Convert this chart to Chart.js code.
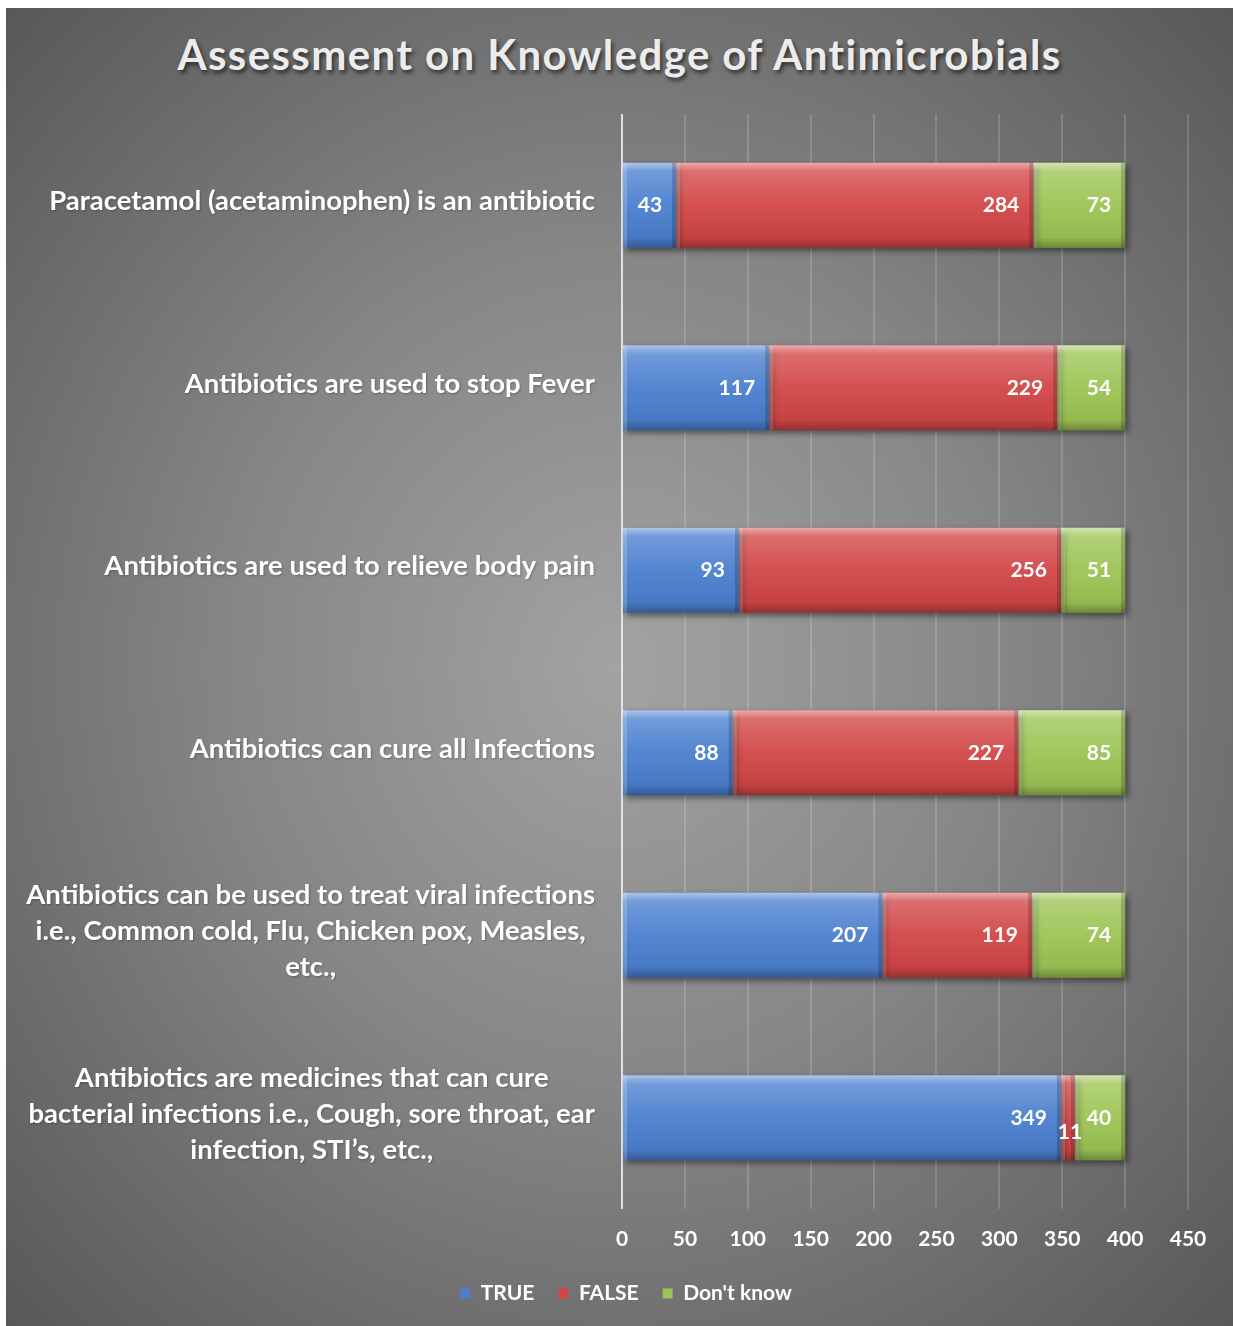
<!DOCTYPE html>
<html lang="en">
<head>
    <meta charset="UTF-8">
    <title>Assessment on Knowledge of Antimicrobials</title>
    <script src="https://cdn.jsdelivr.net/npm/chart.js"></script>
    <style>
        body {
            margin: 0;
            background-color: #ffffff;
            font-family: Lato, sans-serif;
        }

        .panel {
            position: absolute;
            left: 6px;
            top: 8px;
            width: 1227px;
            height: 1318px;
            background: radial-gradient(ellipse at 50% 50%, #a3a3a3 0%, #868686 45%, #585858 100%);
            overflow: hidden;
        }

        h1 {
            position: absolute;
            top: 21px;
            left: 0;
            width: 100%;
            margin: 0;
            text-align: center;
            font-size: 42px;
            line-height: 50px;
            font-weight: bold;
            letter-spacing: 1.4px;
            color: #ececec;
            text-shadow: 2px 3px 4px rgba(0, 0, 0, 0.6);
        }

        .chart-box {
            position: absolute;
            left: 0;
            top: 0;
            width: 1227px;
            height: 1318px;
        }
    </style>
</head>
<body>

<div class="panel">
    <h1>Assessment on Knowledge of Antimicrobials</h1>
    <div class="chart-box">
        <canvas id="knowledgeChart"></canvas>
    </div>
</div>

<script>
    // statements, top to bottom
    const categories = [
        ['Paracetamol (acetaminophen) is an antibiotic'],
        ['Antibiotics are used to stop Fever'],
        ['Antibiotics are used to relieve body pain'],
        ['Antibiotics can cure all Infections'],
        ['Antibiotics can be used to treat viral infections', 'i.e., Common cold, Flu, Chicken pox, Measles,', 'etc.,'],
        ['Antibiotics are medicines that can cure', 'bacterial infections i.e., Cough, sore throat, ear', 'infection, STI\u2019s, etc.,']
    ];
    const trueValues = [43, 117, 93, 88, 207, 349];
    const falseValues = [284, 229, 256, 227, 119, 11];
    const dontKnowValues = [73, 54, 51, 85, 74, 40];
    const seriesNames = ['TRUE', 'FALSE', "Don't know"];
    const xTicks = [0, 50, 100, 150, 200, 250, 300, 350, 400, 450];

    const FONT = 'Lato, sans-serif';

    // soft drop shadow under the bars
    const barShadow = {
        id: 'barShadow',
        beforeDatasetsDraw(chart) {
            const ctx = chart.ctx;
            ctx.save();
            ctx.shadowColor = 'rgba(0, 0, 0, 0.45)';
            ctx.shadowBlur = 6;
            ctx.shadowOffsetX = 3;
            ctx.shadowOffsetY = 3;
        },
        afterDatasetsDraw(chart) {
            chart.ctx.restore();
        }
    };

    // bevel look + value labels
    const barDecor = {
        id: 'barDecor',
        afterDatasetsDraw(chart) {
            const ctx = chart.ctx;
            ctx.save();
            chart.data.datasets.forEach((ds, di) => {
                const meta = chart.getDatasetMeta(di);
                meta.data.forEach((bar) => {
                    const p = bar.getProps(['x', 'y', 'base', 'height'], true);
                    const top = p.y - p.height / 2;
                    const w = p.x - p.base;
                    const g = ctx.createLinearGradient(0, top, 0, top + p.height);
                    g.addColorStop(0, 'rgba(255,255,255,0.55)');
                    g.addColorStop(0.1, 'rgba(255,255,255,0.22)');
                    g.addColorStop(0.5, 'rgba(255,255,255,0.05)');
                    g.addColorStop(0.88, 'rgba(0,0,0,0.06)');
                    g.addColorStop(1, 'rgba(0,0,0,0.3)');
                    ctx.fillStyle = g;
                    ctx.fillRect(p.base, top, w, p.height);
                    // side bevels
                    ctx.fillStyle = 'rgba(255,255,255,0.18)';
                    ctx.fillRect(p.base, top, Math.min(4, w), p.height);
                    ctx.fillStyle = 'rgba(0,0,0,0.18)';
                    ctx.fillRect(p.x - Math.min(4, w), top, Math.min(4, w), p.height);
                });
            });

            ctx.font = 'bold 21px ' + FONT;
            ctx.fillStyle = '#ffffff';
            ctx.textBaseline = 'middle';
            chart.data.datasets.forEach((ds, di) => {
                const meta = chart.getDatasetMeta(di);
                meta.data.forEach((bar, i) => {
                    const p = bar.getProps(['x', 'y', 'base'], true);
                    const txt = String(ds.data[i]);
                    const tw = ctx.measureText(txt).width;
                    if (p.x - p.base > tw + 22) {
                        ctx.textAlign = 'right';
                        ctx.fillText(txt, p.x - 14, p.y);
                    } else {
                        ctx.textAlign = 'center';
                        ctx.fillText(txt, (p.x + p.base) / 2 + 2, p.y + 14);
                    }
                });
            });
            ctx.restore();
        }
    };

    // category labels: each block right-aligned, its lines centred
    const categoryLabels = {
        id: 'categoryLabels',
        afterDraw(chart) {
            const ctx = chart.ctx;
            const yScale = chart.scales.y;
            const right = chart.chartArea.left - 27;
            ctx.save();
            ctx.font = 'bold 27.5px ' + FONT;
            ctx.fillStyle = '#ffffff';
            ctx.textAlign = 'center';
            ctx.textBaseline = 'middle';
            ctx.shadowColor = 'rgba(0,0,0,0.25)';
            ctx.shadowBlur = 2;
            ctx.shadowOffsetX = 1;
            ctx.shadowOffsetY = 1;
            categories.forEach((lines, i) => {
                const cy = yScale.getPixelForValue(i) - 4;
                const w = Math.max(...lines.map(l => ctx.measureText(l).width));
                const cx = right - w / 2;
                lines.forEach((line, j) => {
                    ctx.fillText(line, cx, cy + (j - (lines.length - 1) / 2) * 36);
                });
            });
            ctx.restore();
        }
    };

    const ctx = document.getElementById('knowledgeChart').getContext('2d');
    const knowledgeChart = new Chart(ctx, {
        type: 'bar',
        data: {
            labels: categories,
            datasets: [
                { label: seriesNames[0], data: trueValues, backgroundColor: '#4a7fcf' },
                { label: seriesNames[1], data: falseValues, backgroundColor: '#d24646' },
                { label: seriesNames[2], data: dontKnowValues, backgroundColor: '#9cc454' }
            ]
        },
        options: {
            indexAxis: 'y',
            responsive: true,
            maintainAspectRatio: false,
            animation: false,
            categoryPercentage: 1,
            barPercentage: 0.465,
            layout: {
                padding: { top: 106, right: 45, bottom: 12, left: 58 }
            },
            scales: {
                x: {
                    stacked: true,
                    min: xTicks[0],
                    max: xTicks[xTicks.length - 1],
                    afterBuildTicks(scale) {
                        scale.ticks = xTicks.map(v => ({ value: v }));
                    },
                    afterFit(scale) {
                        scale.height = 50;
                    },
                    grid: {
                        drawTicks: false,
                        lineWidth: 2,
                        color: (c) => c.index === 0 ? 'rgba(235,235,235,0.9)' : 'rgba(255,255,255,0.16)'
                    },
                    border: { display: false },
                    ticks: {
                        color: '#ffffff',
                        padding: 18,
                        font: { family: FONT, size: 21, weight: 'bold' }
                    }
                },
                y: {
                    stacked: true,
                    grid: { display: false },
                    border: { display: false },
                    ticks: { display: false },
                    afterFit(scale) {
                        scale.width = 558;
                    }
                }
            },
            plugins: {
                legend: {
                    position: 'bottom',
                    labels: {
                        color: '#ffffff',
                        boxWidth: 10,
                        boxHeight: 10,
                        padding: 24,
                        font: { family: FONT, size: 21, weight: 'bold' }
                    }
                },
                tooltip: { enabled: false }
            }
        },
        plugins: [barShadow, barDecor, categoryLabels]
    });
</script>
</body>
</html>
